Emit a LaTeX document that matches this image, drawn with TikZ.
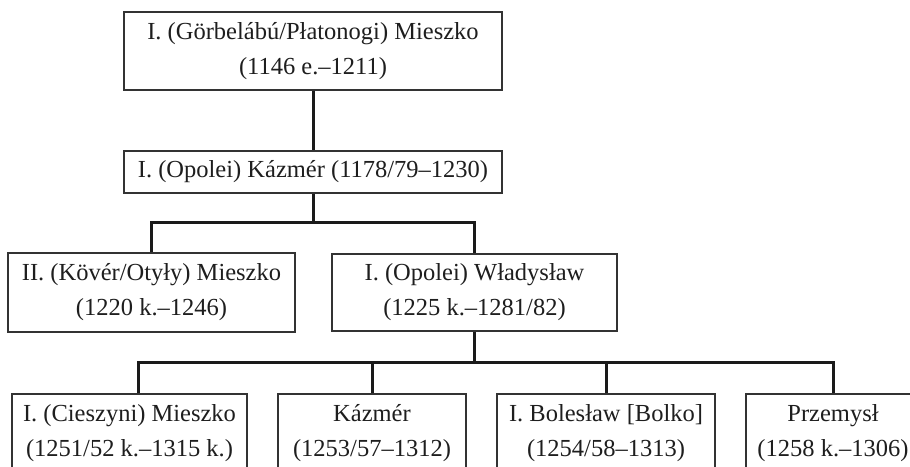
\documentclass[tikz,border=0pt]{standalone}
\usepackage{fontspec}
\setmainfont{Liberation Serif}
\definecolor{ink}{HTML}{1E1E1E}
\definecolor{frame}{HTML}{333333}
\definecolor{conn}{HTML}{1A1A1A}
\begin{document}
\begin{tikzpicture}[x=1pt,y=-1pt,
  box/.style={draw=frame, line width=1.4pt, rectangle, inner sep=0pt, align=center,
    text=ink, font=\fontsize{24.5}{35}\selectfont},
  link/.style={draw=conn, line width=3pt}]
\useasboundingbox (0,0) rectangle (910,466);
\clip (0,0) rectangle (910,466);
\fill[white] (0,0) rectangle (910,466);
% nodes
\node[box, minimum width=378pt, minimum height=78pt] (mie1) at (313,51) {I. (Görbelábú/Płatonogi) Mieszko\\(1146 e.–1211)};
\node[box, minimum width=378pt, minimum height=42pt] (kaz1) at (313,172) {I. (Opolei) Kázmér (1178/79–1230)};
\node[box, minimum width=287pt, minimum height=79pt] (mie2) at (151.5,292.5) {II. (Kövér/Otyły) Mieszko\\(1220 k.–1246)};
\node[box, minimum width=285pt, minimum height=77pt] (wla) at (474.5,292.5) {I. (Opolei) Władysław\\(1225 k.–1281/82)};
\node[box, minimum width=235pt, minimum height=78pt] (cie) at (129.5,433) {I. (Cieszyni) Mieszko\\(1251/52 k.–1315 k.)};
\node[box, minimum width=188pt, minimum height=78pt] (kaz2) at (372,433) {Kázmér\\(1253/57–1312)};
\node[box, minimum width=218pt, minimum height=78pt] (bol) at (606,433) {I. Bolesław [Bolko]\\(1254/58–1313)};
\node[box, minimum width=174pt, minimum height=78pt] (prz) at (833,433) {Przemysł\\(1258 k.–1306)};
% junctions
\coordinate (j1) at (313,222);
\coordinate (j2) at (474,362);
% connectors
\draw[link] (mie1.south) -- (kaz1.north);
\draw[link] (kaz1.south) -- (j1);
\draw[link] ([xshift=-0.5pt]mie2.north) |- (j1) -| ([xshift=-0.5pt]wla.north);
\draw[link] ([xshift=-0.5pt]wla.south) -- (j2);
\draw[link] ([xshift=8.5pt]cie.north) |- (j2) -| (prz.north);
\draw[link] (kaz2.north) -- (kaz2.north |- j2);
\draw[link] (bol.north) -- (bol.north |- j2);
\end{tikzpicture}
\end{document}
